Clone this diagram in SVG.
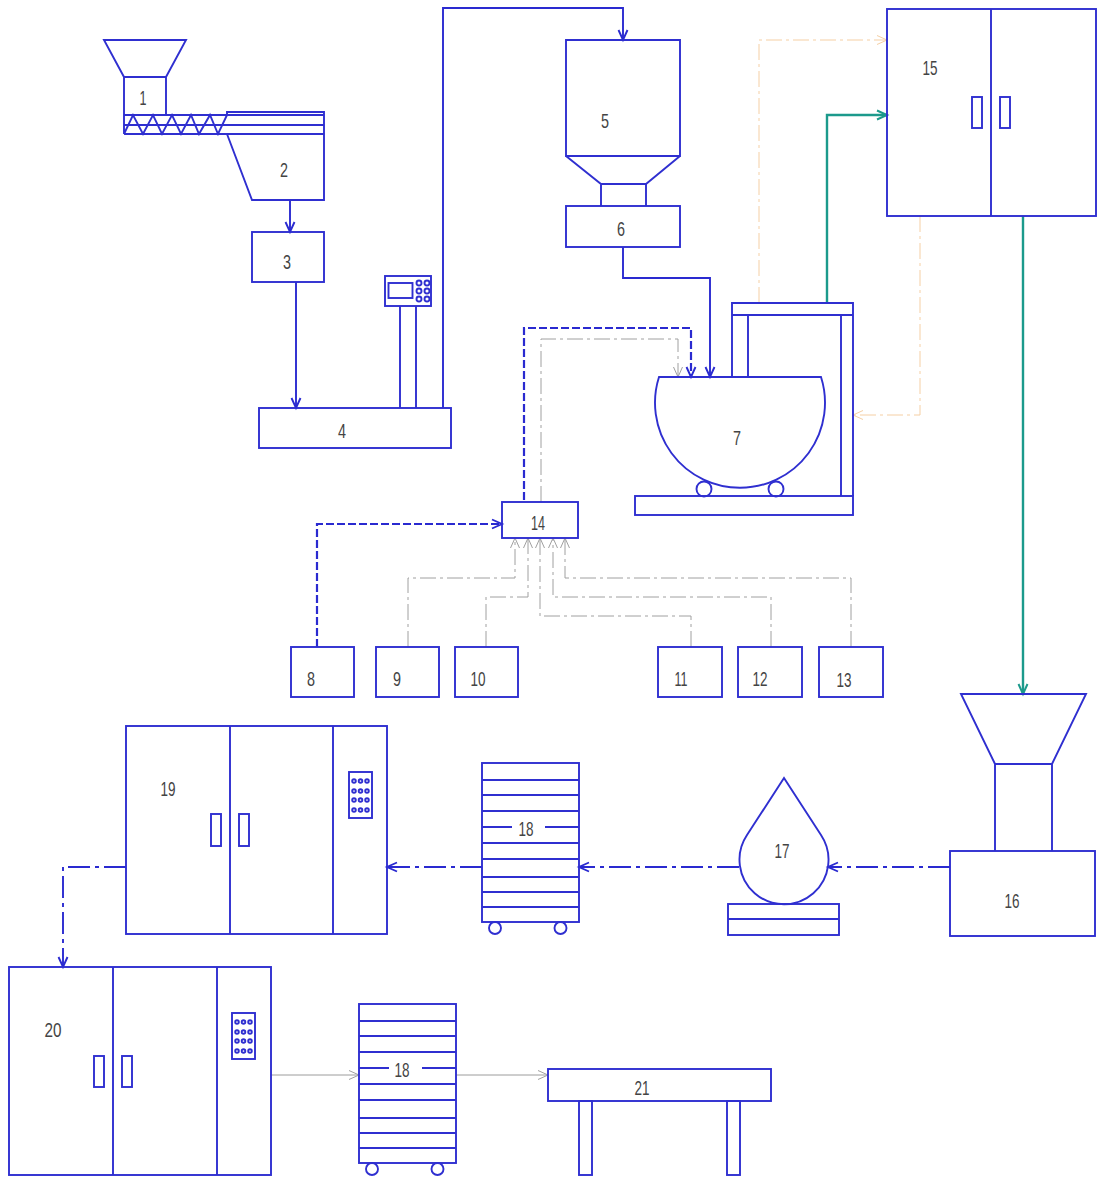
<svg xmlns="http://www.w3.org/2000/svg" width="1100" height="1180" viewBox="0 0 1100 1180">
<style>
.n{fill:none;stroke:#2f2fd0;stroke-width:1.9}
.t{font-family:"Liberation Sans",sans-serif;font-size:21px;fill:#444;text-anchor:middle}
.c{fill:none}
.b{stroke:#2a2ad0;stroke-width:1.9}
.bd{stroke:#2a2ad0;stroke-width:2.2;stroke-dasharray:8 3}
.bdd{stroke:#2a2ad0;stroke-width:1.9;stroke-dasharray:22 5 4 5}
.g{stroke:#a0a0a0;stroke-width:1;stroke-dasharray:16 4 3 4}
.gs{stroke:#9c9c9c;stroke-width:1}
.o{stroke:#f5cfa4;stroke-width:1;stroke-dasharray:16 4 3 4}
.e{stroke:#1c9a8c;stroke-width:2.4}
.mb{fill:none;stroke:#2a2ad0;stroke-width:1.9}
.mg{fill:none;stroke:#a0a0a0;stroke-width:1}
.mo{fill:none;stroke:#f5cfa4;stroke-width:1}
.me{fill:none;stroke:#1c9a8c;stroke-width:2}
</style>
<defs>
<marker id="ab" markerUnits="userSpaceOnUse" markerWidth="14" markerHeight="12" refX="11" refY="6" orient="auto"><path class="mb" d="M1 1.500L11 6L1 10.500"/></marker>
<marker id="ag" markerUnits="userSpaceOnUse" markerWidth="14" markerHeight="12" refX="11" refY="6" orient="auto"><path class="mg" d="M1 1.500L11 6L1 10.500"/></marker>
<marker id="ao" markerUnits="userSpaceOnUse" markerWidth="14" markerHeight="12" refX="11" refY="6" orient="auto"><path class="mo" d="M1 1.500L11 6L1 10.500"/></marker>
<marker id="ae" markerUnits="userSpaceOnUse" markerWidth="14" markerHeight="12" refX="11" refY="6" orient="auto"><path class="me" d="M1 1.500L11 6L1 10.500"/></marker>
<g id="keypad">
<rect class="n" x="0" y="0" width="23" height="46"/>
<g class="n">
<circle cx="5" cy="9" r="1.800"/><circle cx="11.500" cy="9" r="1.800"/><circle cx="18" cy="9" r="1.800"/>
<circle cx="5" cy="19" r="1.800"/><circle cx="11.500" cy="19" r="1.800"/><circle cx="18" cy="19" r="1.800"/>
<circle cx="5" cy="28" r="1.800"/><circle cx="11.500" cy="28" r="1.800"/><circle cx="18" cy="28" r="1.800"/>
<circle cx="5" cy="38" r="1.800"/><circle cx="11.500" cy="38" r="1.800"/><circle cx="18" cy="38" r="1.800"/>
</g>
</g>
<g id="cart">
<rect class="n" x="0" y="0" width="97" height="159"/>
<path class="n" d="M0 17H97M0 32H97M0 48H97M0 64H30M63 64H97M0 80H97M0 96H97M0 114H97M0 129H97M0 144H97"/>
<circle class="n" cx="13" cy="165" r="6"/><circle class="n" cx="78.500" cy="165" r="6"/>
</g>
</defs>
<g id="connectors">
<path class="c b" marker-end="url(#ab)" d="M290 200V232"/>
<path class="c b" marker-end="url(#ab)" d="M296 282V408"/>
<path class="c b" marker-end="url(#ab)" d="M443 408V8H623V40"/>
<path class="c b" marker-end="url(#ab)" d="M623 247V278H710V377"/>
<path class="c e" marker-end="url(#ae)" d="M827 303V115H887"/>
<path class="c e" marker-end="url(#ae)" d="M1023 216V694"/>
<path class="c o" marker-end="url(#ao)" d="M759 303V40H887"/>
<path class="c o" marker-end="url(#ao)" d="M920 216V415H853"/>
<path class="c bd" marker-end="url(#ab)" d="M524 500V328H691V377"/>
<path class="c g" marker-end="url(#ag)" d="M541 502V339H678V377"/>
<path class="c bd" marker-end="url(#ab)" d="M317 647V524H502"/>
<path class="c g" marker-end="url(#ag)" d="M408 647V578H515V538"/>
<path class="c g" marker-end="url(#ag)" d="M486 647V597H528V538"/>
<path class="c g" marker-end="url(#ag)" d="M691 647V616H540V538"/>
<path class="c g" marker-end="url(#ag)" d="M771 647V597H553V538"/>
<path class="c g" marker-end="url(#ag)" d="M851 647V578H565V538"/>
<path class="c bdd" marker-end="url(#ab)" d="M950 867H828"/>
<path class="c bdd" marker-end="url(#ab)" d="M739 867H579"/>
<path class="c bdd" marker-end="url(#ab)" d="M482 867H387"/>
<path class="c bdd" marker-end="url(#ab)" d="M126 867H63V967"/>
<path class="c gs" marker-end="url(#ag)" d="M271 1075H359"/>
<path class="c gs" marker-end="url(#ag)" d="M456 1075H548"/>
</g>
<g id="node1"><path class="n" d="M104 40H186L166 77H124ZM124 77V115M166 77V115M124 115H227M124 125H324M124 134H324M124 115V134M124 134L133 115L143 134L153 115L162 134L172 115L181 134L191 115L199 134L210 115L218 134L227 115"/><text class="t" x="143" y="105" textLength="7" lengthAdjust="spacingAndGlyphs">1</text></g>
<g id="node2"><path class="n" d="M227 115V112H324V200H252L227 134M227 115H324"/><text class="t" x="284" y="177" textLength="8" lengthAdjust="spacingAndGlyphs">2</text></g>
<g id="node3"><rect class="n" x="252" y="232" width="72" height="50"/><text class="t" x="287" y="269" textLength="8" lengthAdjust="spacingAndGlyphs">3</text></g>
<g id="node4"><rect class="n" x="259" y="408" width="192" height="40"/><path class="n" d="M400 306V408M416 306V408"/><rect class="n" x="385" y="276" width="46" height="30"/><rect class="n" x="388.500" y="283" width="24" height="15"/><g class="n"><circle cx="419" cy="283" r="2.500"/><circle cx="427" cy="283" r="2.500"/><circle cx="419" cy="291" r="2.500"/><circle cx="427" cy="291" r="2.500"/><circle cx="419" cy="299" r="2.500"/><circle cx="427" cy="299" r="2.500"/></g><text class="t" x="342" y="438" textLength="8" lengthAdjust="spacingAndGlyphs">4</text></g>
<g id="node5"><path class="n" d="M566 40H680V156H566ZM566 156L601 184H646L680 156M601 184V206M646 184V206"/><text class="t" x="605" y="128" textLength="8" lengthAdjust="spacingAndGlyphs">5</text></g>
<g id="node6"><rect class="n" x="566" y="206" width="114" height="41"/><text class="t" x="621" y="236" textLength="8" lengthAdjust="spacingAndGlyphs">6</text></g>
<g id="node7"><path class="n" d="M659 377H821A85 85 0 1 1 659 377Z"/><circle class="n" cx="704" cy="489" r="7.500"/><circle class="n" cx="776" cy="489" r="7.500"/><rect class="n" x="635" y="496" width="218" height="19"/><path class="n" d="M732 377V303H853V496M748 315V377M841 315V496M732 315H853"/><text class="t" x="737" y="445" textLength="8" lengthAdjust="spacingAndGlyphs">7</text></g>
<g id="node8"><rect class="n" x="291" y="647" width="63" height="50"/><text class="t" x="311" y="686" textLength="8" lengthAdjust="spacingAndGlyphs">8</text></g>
<g id="node9"><rect class="n" x="376" y="647" width="63" height="50"/><text class="t" x="397" y="686" textLength="8" lengthAdjust="spacingAndGlyphs">9</text></g>
<g id="node10"><rect class="n" x="455" y="647" width="63" height="50"/><text class="t" x="478" y="686" textLength="15" lengthAdjust="spacingAndGlyphs">10</text></g>
<g id="node11"><rect class="n" x="658" y="647" width="64" height="50"/><text class="t" x="681" y="686" textLength="13" lengthAdjust="spacingAndGlyphs">11</text></g>
<g id="node12"><rect class="n" x="738" y="647" width="64" height="50"/><text class="t" x="760" y="686" textLength="15" lengthAdjust="spacingAndGlyphs">12</text></g>
<g id="node13"><rect class="n" x="819" y="647" width="64" height="50"/><text class="t" x="844" y="687" textLength="15" lengthAdjust="spacingAndGlyphs">13</text></g>
<g id="node14"><rect class="n" x="502" y="502" width="76" height="36"/><text class="t" x="538" y="530" textLength="14" lengthAdjust="spacingAndGlyphs">14</text></g>
<g id="node15"><rect class="n" x="887" y="9" width="209" height="207"/><path class="n" d="M991 9V216"/><rect class="n" x="972" y="97" width="10" height="31"/><rect class="n" x="1000" y="97" width="10" height="31"/><text class="t" x="930" y="75" textLength="15" lengthAdjust="spacingAndGlyphs">15</text></g>
<g id="node16"><rect class="n" x="950" y="851" width="145" height="85"/><path class="n" d="M961 694H1086L1052 764H995ZM995 764V851M1052 764V851"/><text class="t" x="1012" y="908" textLength="15" lengthAdjust="spacingAndGlyphs">16</text></g>
<g id="node17"><path class="n" d="M784 778L747 835A44.500 44.500 0 1 0 821 835Z"/><rect class="n" x="728" y="904" width="111" height="31"/><path class="n" d="M728 919H839"/><text class="t" x="782" y="858" textLength="15" lengthAdjust="spacingAndGlyphs">17</text></g>
<g id="node18a"><use href="#cart" x="482" y="763"/><text class="t" x="526" y="836" textLength="15" lengthAdjust="spacingAndGlyphs">18</text></g>
<g id="node19"><rect class="n" x="126" y="726" width="261" height="208"/><path class="n" d="M230 726V934M333 726V934"/><rect class="n" x="211" y="814" width="10" height="32"/><rect class="n" x="239" y="814" width="10" height="32"/><use href="#keypad" x="349" y="772"/><text class="t" x="168" y="796" textLength="15" lengthAdjust="spacingAndGlyphs">19</text></g>
<g id="node20"><rect class="n" x="9" y="967" width="262" height="208"/><path class="n" d="M113 967V1175M217 967V1175"/><rect class="n" x="94" y="1056" width="10" height="31"/><rect class="n" x="122" y="1056" width="10" height="31"/><use href="#keypad" x="232" y="1013"/><text class="t" x="53" y="1037" textLength="17" lengthAdjust="spacingAndGlyphs">20</text></g>
<g id="node18b"><use href="#cart" x="359" y="1004"/><text class="t" x="402" y="1077" textLength="15" lengthAdjust="spacingAndGlyphs">18</text></g>
<g id="node21"><rect class="n" x="548" y="1069" width="223" height="32"/><rect class="n" x="579" y="1101" width="13" height="74"/><rect class="n" x="727" y="1101" width="13" height="74"/><text class="t" x="642" y="1095" textLength="15" lengthAdjust="spacingAndGlyphs">21</text></g>
</svg>
